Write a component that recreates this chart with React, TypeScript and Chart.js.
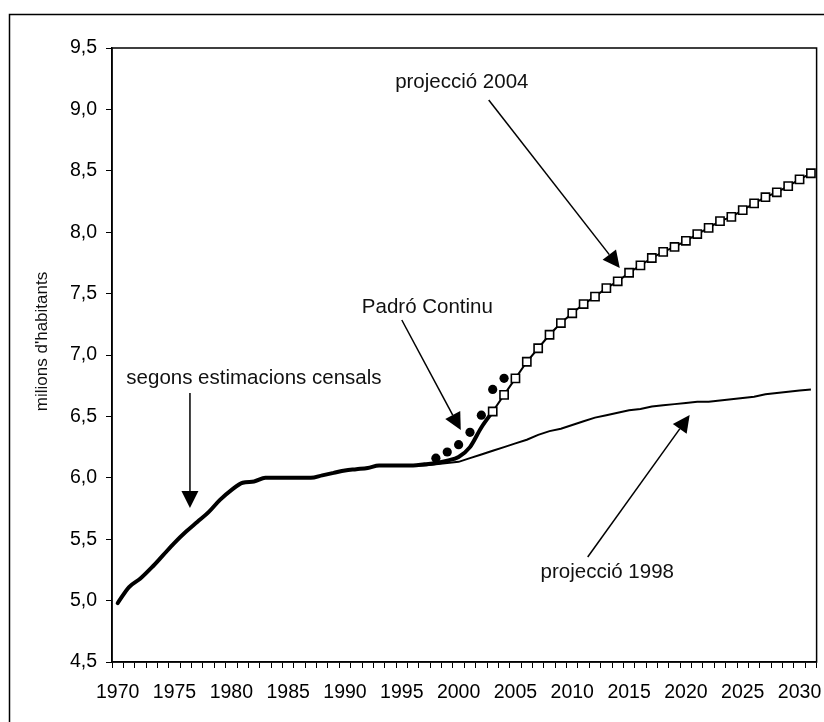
import React, { useEffect, useRef } from 'react';
import { Chart, registerables } from 'chart.js';

Chart.register(...registerables);

// ---- categories (x axis) ----
const YEARS = [
  1970, 1971, 1972, 1973, 1974, 1975, 1976, 1977, 1978, 1979,
  1980, 1981, 1982, 1983, 1984, 1985, 1986, 1987, 1988, 1989,
  1990, 1991, 1992, 1993, 1994, 1995, 1996, 1997, 1998, 1999,
  2000, 2001, 2002, 2003, 2004, 2005, 2006, 2007, 2008, 2009,
  2010, 2011, 2012, 2013, 2014, 2015, 2016, 2017, 2018, 2019,
  2020, 2021, 2022, 2023, 2024, 2025, 2026, 2027, 2028, 2029,
  2030, 2031,
];
const X_LABEL_EVERY = 5;
const X_LABEL_LAST = 2030;

// ---- y axis ----
const Y_MIN = 4.5;
const Y_MAX = 9.5;
const Y_STEP = 0.5;
const Y_TITLE = "milions d'habitants";

// ---- series: segons estimacions censals (from 1970) ----
const CENSUS_START = 1970;
const CENSUS_VALUES = [
  4.98, 5.11, 5.18, 5.27, 5.37, 5.47, 5.56, 5.64, 5.72, 5.82,
  5.90, 5.96, 5.97, 6.00, 6.00, 6.00, 6.00, 6.00, 6.02, 6.04,
  6.06, 6.07, 6.08, 6.10, 6.10, 6.10, 6.10, 6.11, 6.12, 6.14,
  6.17, 6.25, 6.41, 6.54,
];

// ---- series: projecció 2004 (from 2003) ----
const PROJ2004_START = 2003;
const PROJ2004_VALUES = [
  6.54, 6.675, 6.81, 6.945, 7.055, 7.165, 7.26, 7.34, 7.415, 7.475,
  7.545, 7.60, 7.67, 7.73, 7.79, 7.84, 7.88, 7.93, 7.985, 8.035,
  8.09, 8.125, 8.18, 8.235, 8.285, 8.325, 8.375, 8.43, 8.48,
];

// ---- series: projecció 1998 (from 1996) ----
const PROJ1998_START = 1996;
const PROJ1998_VALUES = [
  6.10, 6.10, 6.11, 6.12, 6.13, 6.16, 6.19, 6.22, 6.25, 6.28,
  6.31, 6.35, 6.38, 6.40, 6.43, 6.46, 6.49, 6.51, 6.53, 6.55,
  6.56, 6.58, 6.59, 6.60, 6.61, 6.62, 6.62, 6.63, 6.64, 6.65,
  6.66, 6.68, 6.69, 6.70, 6.71, 6.72,
];

// ---- series: Padró Continu (from 1998) ----
const PADRO_START = 1998;
const PADRO_VALUES = [6.16, 6.21, 6.27, 6.37, 6.51, 6.72, 6.81];

// ---- annotations (data coordinates: year, value at text baseline) ----
const LABELS = [
  { text: 'projecció 2004', year: 2000.28, value: 9.174 },
  { text: 'Padró Continu', year: 1997.25, value: 7.342 },
  { text: 'segons estimacions censals', year: 1981.99, value: 6.764 },
  { text: 'projecció 1998', year: 2013.08, value: 5.182 },
];
const ARROWS = [
  { fromYear: 2002.65, fromValue: 9.077, toYear: 2014.18, toValue: 7.708 },
  { fromYear: 1995.0, fromValue: 7.285, toYear: 2000.19, toValue: 6.389 },
  { fromYear: 1976.36, fromValue: 6.691, toYear: 1976.36, toValue: 5.754 },
  { fromYear: 2011.36, fromValue: 5.355, toYear: 2020.33, toValue: 6.511 },
];
const Y_TITLE_VALUE = 7.11;

const FONT = '"Liberation Sans", Arial, Helvetica, sans-serif';

const toPoints = (start: number, values: number[]) =>
  values.map((v, i) => ({ x: String(start + i), y: v }));

const fmt = (v: number) => v.toFixed(1).replace('.', ',');

const decorPlugin = {
  id: 'decor',
  beforeDraw(chart: any) {
    const ctx = chart.ctx;
    ctx.save();
    ctx.fillStyle = '#fff';
    ctx.fillRect(0, 0, chart.width, chart.height);
    ctx.strokeStyle = '#000';
    ctx.lineWidth = 1.5;
    ctx.strokeRect(9.5, 14.5, chart.width + 20, chart.height + 20);
    ctx.restore();
  },
  afterDraw(chart: any) {
    const ctx = chart.ctx;
    const xs = chart.scales.x;
    const ys = chart.scales.y;
    const a = chart.chartArea;
    const px = (year: number) => xs.getPixelForValue(year - YEARS[0]);
    const py = (v: number) => ys.getPixelForValue(v);
    ctx.save();
    // plot area frame
    ctx.strokeStyle = '#000';
    ctx.lineWidth = 1.5;
    ctx.strokeRect(a.left, a.top, a.right - a.left, a.bottom - a.top);

    // y title
    ctx.fillStyle = '#111';
    ctx.font = `17px ${FONT}`;
    ctx.textAlign = 'center';
    ctx.textBaseline = 'middle';
    ctx.save();
    ctx.translate(42, py(Y_TITLE_VALUE));
    ctx.rotate(-Math.PI / 2);
    ctx.fillText(Y_TITLE, 0, 0);
    ctx.restore();

    // text labels
    ctx.font = `20.5px ${FONT}`;
    ctx.textBaseline = 'alphabetic';
    LABELS.forEach((l) => {
      ctx.fillText(l.text, px(l.year), py(l.value));
    });

    // arrows
    ARROWS.forEach((ar) => {
      const x1 = px(ar.fromYear), y1 = py(ar.fromValue);
      const x2 = px(ar.toYear), y2 = py(ar.toValue);
      const ang = Math.atan2(y2 - y1, x2 - x1);
      const headLen = 17, headHalf = 8.5;
      const bx = x2 - headLen * Math.cos(ang);
      const by = y2 - headLen * Math.sin(ang);
      ctx.strokeStyle = '#000';
      ctx.lineWidth = 1.5;
      ctx.beginPath();
      ctx.moveTo(x1, y1);
      ctx.lineTo(bx, by);
      ctx.stroke();
      ctx.fillStyle = '#000';
      ctx.beginPath();
      ctx.moveTo(x2, y2);
      ctx.lineTo(bx + headHalf * Math.sin(ang), by - headHalf * Math.cos(ang));
      ctx.lineTo(bx - headHalf * Math.sin(ang), by + headHalf * Math.cos(ang));
      ctx.closePath();
      ctx.fill();
    });
    ctx.restore();
  },
};

export default function App() {
  const ref = useRef<HTMLCanvasElement | null>(null);

  useEffect(() => {
    if (!ref.current) return;
    const chart = new Chart(ref.current, {
      type: 'line',
      data: {
        labels: YEARS.map(String),
        datasets: [
          {
            label: 'Padró Continu',
            data: toPoints(PADRO_START, PADRO_VALUES),
            showLine: false,
            pointRadius: 4.6,
            pointBackgroundColor: '#000',
            pointBorderColor: '#000',
            pointBorderWidth: 0,
            order: 0,
          },
          {
            label: 'projecció 2004',
            data: toPoints(PROJ2004_START, PROJ2004_VALUES),
            borderColor: '#000',
            borderWidth: 2,
            pointStyle: 'rect',
            pointRadius: 5.8,
            pointBackgroundColor: '#fff',
            pointBorderColor: '#000',
            pointBorderWidth: 1.6,
            order: 1,
          },
          {
            label: 'segons estimacions censals',
            data: toPoints(CENSUS_START, CENSUS_VALUES),
            borderColor: '#000',
            borderWidth: 4,
            pointRadius: 0,
            borderCapStyle: 'round',
            borderJoinStyle: 'round',
            cubicInterpolationMode: 'monotone',
            order: 2,
          },
          {
            label: 'projecció 1998',
            data: toPoints(PROJ1998_START, PROJ1998_VALUES),
            borderColor: '#000',
            borderWidth: 2,
            pointRadius: 0,
            order: 3,
          },
        ],
      },
      options: {
        animation: false,
        responsive: false,
        events: [],
        layout: { padding: { left: 0, top: 48, right: 7, bottom: 0 } },
        plugins: {
          legend: { display: false },
          tooltip: { enabled: false },
        },
        scales: {
          x: {
            type: 'category',
            offset: true,
            grid: {
              offset: true,
              drawOnChartArea: false,
              drawTicks: true,
              tickLength: 6,
              color: '#000',
              lineWidth: 1,
            },
            border: { display: true, color: '#000', width: 1.5 },
            ticks: {
              autoSkip: false,
              maxRotation: 0,
              minRotation: 0,
              padding: 13,
              color: '#000',
              font: { family: FONT, size: 19.5 },
              callback: (_v: any, i: number) => {
                const y = YEARS[i];
                return y % X_LABEL_EVERY === 0 && y <= X_LABEL_LAST ? String(y) : '';
              },
            },
            afterFit: (s: any) => {
              s.height = 60;
            },
          },
          y: {
            type: 'linear',
            min: Y_MIN,
            max: Y_MAX,
            grid: {
              drawOnChartArea: false,
              drawTicks: true,
              tickLength: 6,
              color: '#000',
            },
            border: { display: true, color: '#000', width: 1.5 },
            ticks: {
              stepSize: Y_STEP,
              padding: 9,
              color: '#000',
              font: { family: FONT, size: 19.5 },
              callback: (v: any) => fmt(Number(v)),
            },
            afterFit: (s: any) => {
              s.width = 112;
            },
          },
        },
      },
      plugins: [decorPlugin],
    } as any);
    return () => chart.destroy();
  }, []);

  return (
    <div style={{ position: 'absolute', left: 0, top: 0, width: 824, height: 722 }}>
      <canvas ref={ref} width={824} height={722} style={{ display: 'block' }} />
    </div>
  );
}
